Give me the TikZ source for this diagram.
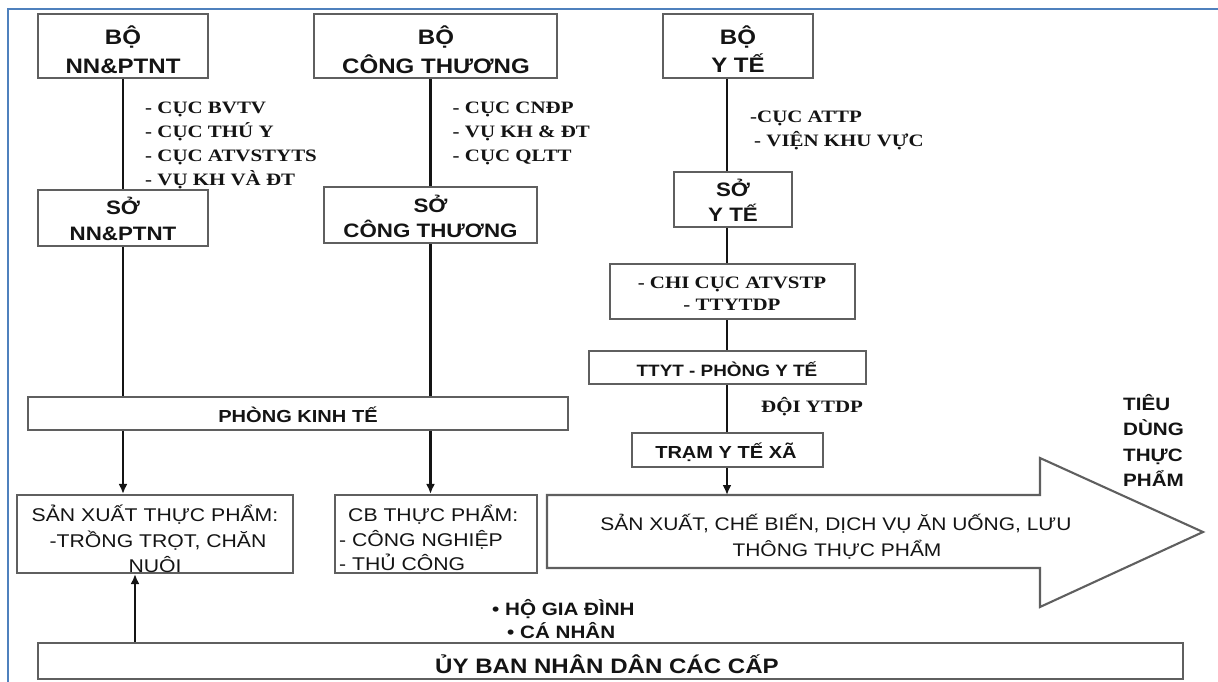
\documentclass[tikz,border=0pt]{standalone}
\usepackage{fontspec}
\usetikzlibrary{arrows.meta}
\newfontfamily\sansw{Liberation Sans}[FakeStretch=1.15]
\newfontfamily\serifw{Liberation Serif}[FakeStretch=1.2]
\definecolor{frameblue}{RGB}{79,129,189}
\definecolor{edge}{RGB}{95,95,95}
\definecolor{ink}{RGB}{20,20,20}
\begin{document}
\begin{tikzpicture}[x=1bp,y=-1bp,
  box/.style={draw=edge,line width=2.1bp,inner sep=0pt},
  link/.style={draw=ink,line width=2.3bp},
  tip/.style={link,-{Latex[length=10bp,width=9bp]}},
  hb/.style={font={\sansw\bfseries\fontsize{#1}{#1}\selectfont},text=ink,inner sep=0pt,anchor=base},
  hr/.style={font={\sansw\fontsize{#1}{#1}\selectfont},text=ink,inner sep=0pt,anchor=base},
  lb/.style={font={\serifw\bfseries\fontsize{#1}{#1}\selectfont},text=ink,inner sep=0pt,anchor=base west},
]
\useasboundingbox (0,0) rectangle (1218,682);
% page frame
\draw[frameblue,line width=2.6bp] (8,682) -- (8,9) -- (1218,9);

% boxes
\node[box,minimum width=170bp,minimum height=64bp] (bonn) at (123,46) {};
\node[box,minimum width=243bp,minimum height=64bp] (bct) at (435.5,46) {};
\node[box,minimum width=150bp,minimum height=64bp] (byt) at (738,46) {};
\node[box,minimum width=170bp,minimum height=56bp] (sonn) at (123,218) {};
\node[box,minimum width=213bp,minimum height=56bp] (soct) at (430.5,215) {};
\node[box,minimum width=118bp,minimum height=55bp] (soyt) at (733,199.5) {};
\node[box,minimum width=245bp,minimum height=55bp] (chicuc) at (732.5,291.5) {};
\node[box,minimum width=277bp,minimum height=33bp] (ttyt) at (727.5,367.5) {};
\node[box,minimum width=191bp,minimum height=34bp] (tram) at (727.5,450) {};
\node[box,minimum width=540bp,minimum height=33bp] (pkt) at (298,413.5) {};
\node[box,minimum width=276bp,minimum height=78bp] (sx) at (155,534) {};
\node[box,minimum width=202bp,minimum height=78bp] (cb) at (436,534) {};
\node[box,minimum width=1145bp,minimum height=36bp] (ub) at (610.5,661) {};

% wide flow arrow
\draw[edge,line width=2.1bp,line join=miter]
  (547,495) -- (1040,495) -- (1040,458) -- (1203,532) -- (1040,607)
  -- (1040,568) -- (547,568) -- cycle;
\coordinate (flowtop) at (727,495);
\coordinate (ycol) at (727,0);
\coordinate (upx) at (135,0);

% connectors: agriculture column
\draw[link] (bonn.south) -- (sonn.north);
\draw[link] (sonn.south) -- (sonn.south |- pkt.north);
\draw[tip] (sonn.south |- pkt.south) -- (sonn.south |- sx.north);
% connectors: industry and trade column
\draw[link] (soct.north |- bct.south) -- (soct.north);
\draw[link] (soct.south) -- (soct.south |- pkt.north);
\draw[tip] (soct.south |- pkt.south) -- (soct.south |- cb.north);
% connectors: health column
\draw[link] (ycol |- byt.south) -- (ycol |- soyt.north);
\draw[link] (ycol |- soyt.south) -- (ycol |- chicuc.north);
\draw[link] (ycol |- chicuc.south) -- (ycol |- ttyt.north);
\draw[link] (ycol |- ttyt.south) -- (ycol |- tram.north);
\draw[tip] (ycol |- tram.south) -- (flowtop);
% people's committees up to primary production
\draw[tip,line width=2bp] (upx |- ub.north) -- (upx |- sx.south);

% ministry boxes
\node[hb=21] (bonnA) at (123,45) {BỘ};
\node[hb=21] (bonnB) at (123,73.5) {NN\&PTNT};
\node[hb=21] (bctA) at (436,45) {BỘ};
\node[hb=21] (bctB) at (436,73.5) {CÔNG THƯƠNG};
\node[hb=21] (bytA) at (738,45) {BỘ};
\node[hb=21] (bytB) at (738,73) {Y TẾ};
% department boxes
\node[hb=19.5] (sonnA) at (123,215) {SỞ};
\node[hb=19.5] (sonnB) at (123,240.5) {NN\&PTNT};
\node[hb=19.5] (soctA) at (430.5,213) {SỞ};
\node[hb=19.5] (soctB) at (430.5,237.5) {CÔNG THƯƠNG};
\node[hb=19.5] (soytA) at (733,196.5) {SỞ};
\node[hb=19.5] (soytB) at (733,221.5) {Y TẾ};

% agencies under each ministry
\node[lb=17.5] (nn1) at (145,113.3) {- CỤC BVTV};
\node[lb=17.5] (nn2) at (145,137.3) {- CỤC THÚ Y};
\node[lb=17.5] (nn3) at (145,161.7) {- CỤC ATVSTYTS};
\node[lb=17.5] (nn4) at (145,186) {- VỤ KH VÀ ĐT};
\node[lb=17.5] (ct1) at (452.5,113.3) {- CỤC CNĐP};
\node[lb=17.5] (ct2) at (452.5,137.3) {- VỤ KH \& ĐT};
\node[lb=17.5] (ct3) at (452.5,161.7) {- CỤC QLTT};
\node[lb=17.5] (yt1) at (750,122.7) {-CỤC ATTP};
\node[lb=17.5] (yt2) at (754,146.7) {- VIỆN KHU VỰC};
\node[lb=17.5,anchor=base] (cc1) at (732,288.3) {- CHI CỤC ATVSTP};
\node[lb=17.5,anchor=base] (cc2) at (732,310.7) {- TTYTDP};
\node[lb=17.5] (doi) at (761,412.7) {ĐỘI YTDP};

% district and commune level
\node[hb=17.5] (pktT) at (298,422.3) {PHÒNG KINH TẾ};
\node[hb=16.5] (ttytT) at (727,376.7) {TTYT - PHÒNG Y TẾ};
\node[hb=17.5] (tramT) at (726,458.3) {TRẠM Y TẾ XÃ};

% production boxes
\node[hr=18.5] (sx1) at (155,521.5) {SẢN XUẤT THỰC PHẨM:};
\node[hr=18.5] (sx2) at (158,547.5) {-TRỒNG TRỌT, CHĂN};
\node[hr=18.5] (sx3) at (155,572) {NUÔI};
\node[hr=18.5,anchor=base west] (cb1) at (348,521.7) {CB THỰC PHẨM:};
\node[hr=18.5,anchor=base west] (cb2) at (339,546) {- CÔNG NGHIỆP};
\node[hr=18.5,anchor=base west] (cb3) at (339,570) {- THỦ CÔNG};
\node[hr=18.3] (fl1) at (836,530) {SẢN XUẤT, CHẾ BIẾN, DỊCH VỤ ĂN UỐNG, LƯU};
\node[hr=18.3] (fl2) at (837,556) {THÔNG THỰC PHẨM};

% consumption
\node[hb=18,anchor=base west] (td1) at (1123,410) {TIÊU};
\node[hb=18,anchor=base west] (td2) at (1123,435) {DÙNG};
\node[hb=18,anchor=base west] (td3) at (1123,461.5) {THỰC};
\node[hb=18,anchor=base west] (td4) at (1123,486.5) {PHẨM};

% households and committees
\node[hb=18,anchor=base west] (ho1) at (492,615) {• HỘ GIA ĐÌNH};
\node[hb=18,anchor=base west] (ho2) at (507,638) {• CÁ NHÂN};
\node[hb=21] (ubT) at (607,673) {ỦY BAN NHÂN DÂN CÁC CẤP};
\end{tikzpicture}
\end{document}
